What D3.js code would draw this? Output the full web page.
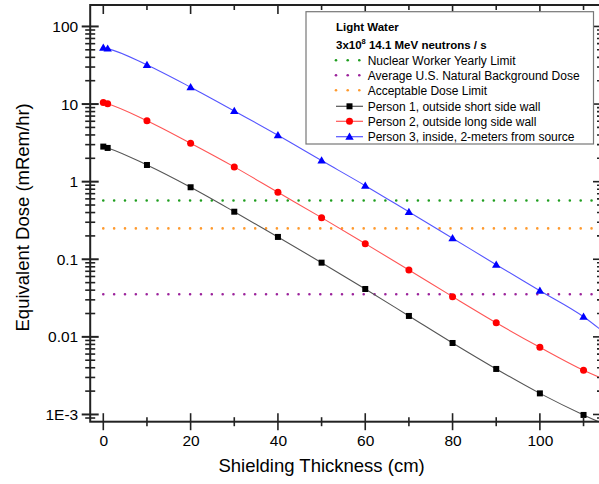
<!DOCTYPE html>
<html><head><meta charset="utf-8">
<script src="https://cdn.jsdelivr.net/npm/d3@7"></script>
<style>body{margin:0;background:#fff;} svg{display:block;font-family:"Liberation Sans",Arial,sans-serif;}</style>
</head><body><svg id="c" width="599" height="484"></svg>
<script>
const thickness = [0, 1, 10, 20, 30, 40, 50, 60, 70, 80, 90, 100, 110, 120];
const person1 = [2.83, 2.72, 1.64, 0.847, 0.410, 0.194, 0.0904, 0.0414, 0.0186, 0.00834, 0.00386, 0.00187, 0.000986, 0.00056];
const person2 = [10.5, 10.1, 6.11, 3.13, 1.55, 0.729, 0.344, 0.159, 0.0728, 0.033, 0.0152, 0.00734, 0.00371, 0.00216];
const person3 = [53.3, 51.8, 31.9, 16.5, 8.15, 3.96, 1.87, 0.888, 0.408, 0.187, 0.0851, 0.0394, 0.0182, 0.0064];
const limitNames = ["Nuclear Worker Yearly Limit", "Average U.S. Natural Background Dose", "Acceptable Dose Limit"];
const limitValues = [0.571, 0.0354, 0.25];
const limitColors = ["#1f9e1f", "#9b229b", "#ff9a2e"];
const seriesNames = ["Person 1, outside short side wall", "Person 2, outside long side wall", "Person 3, inside, 2-meters from source"];
const seriesColors = ["#000000", "#ff0000", "#0000ff"];
const lineColors = ["#555555", "#ff5555", "#5555ff"];
const xTicks = [0, 20, 40, 60, 80, 100];
const yTicks = [100, 10, 1, 0.1, 0.01, 0.001];
const yTickLabels = ["100", "10", "1", "0.1", "0.01", "1E-3"];

const svg = d3.select("#c");
const L = 90.2, R = 601, T = 5, B = 421.7;
const x = d3.scaleLinear().domain([-3, 114]).range([L, R]);
const y = d3.scaleLog().domain([8.07e-4, 189]).range([B, T]);

svg.append("defs").append("clipPath").attr("id","clip").append("rect")
  .attr("x", L).attr("y", T).attr("width", R - L).attr("height", B - T);

// limit dotted lines
const plot = svg.append("g").attr("clip-path","url(#clip)");
limitValues.forEach((v,i)=>{
  plot.append("line").attr("x1", x(0)).attr("x2", R).attr("y1", y(v)).attr("y2", y(v))
    .attr("stroke", limitColors[i]).attr("stroke-width", 2.6)
    .attr("stroke-linecap","round").attr("stroke-dasharray","0 10.85");
});

const series = [person1, person2, person3];
const line = d3.line().x((d,i)=>x(thickness[i])).y(d=>y(d)).curve(d3.curveMonotoneX);
series.forEach((s,k)=>{
  plot.append("path").attr("d", line(s)).attr("fill","none").attr("stroke", lineColors[k]).attr("stroke-width",1.1);
});
function marker(g, k, cx, cy){
  if(k===0) g.append("rect").attr("x",cx-3).attr("y",cy-3).attr("width",6).attr("height",6).attr("fill",seriesColors[k]);
  else if(k===1) g.append("circle").attr("cx",cx).attr("cy",cy).attr("r",3.5).attr("fill",seriesColors[k]);
  else g.append("path").attr("d",`M${cx},${cy-4.2}L${cx+4.2},${cy+3}L${cx-4.2},${cy+3}Z`).attr("fill",seriesColors[k]);
}
series.forEach((s,k)=>{
  s.forEach((v,i)=>marker(plot, k, x(thickness[i]), y(v)));
});

// frame
const ax = svg.append("g").attr("stroke","#222").attr("stroke-width",2);
ax.append("rect").attr("x",L).attr("y",T).attr("width",R-L).attr("height",B-T).attr("fill","none");

// x ticks
const xAll = d3.range(0, 111, 10);
xAll.forEach(v=>{
  const major = v % 20 === 0;
  const h = major ? 8.5 : 4.5;
  ax.append("line").attr("x1",x(v)).attr("x2",x(v)).attr("y1",B-h).attr("y2",B+h).attr("stroke-width",1.6);
  ax.append("line").attr("x1",x(v)).attr("x2",x(v)).attr("y1",T).attr("y2",T+(major?9:5)).attr("stroke-width",1.6);
});
// y ticks
const yMinor = [];
for (let e=-4; e<=2; e++) for (let m=1; m<=9; m++){ const v=m*Math.pow(10,e); if (v>=8.07e-4 && v<=189) yMinor.push(v); }
yMinor.forEach(v=>{
  const major = Math.abs(Math.log10(v) - Math.round(Math.log10(v))) < 1e-9;
  const h = major ? 8.5 : 5;
  ax.append("line").attr("x1",L-h).attr("x2",L+h).attr("y1",y(v)).attr("y2",y(v)).attr("stroke-width",major?2:1.6);
  ax.append("line").attr("x1",R-(major?8:4)).attr("x2",R).attr("y1",y(v)).attr("y2",y(v)).attr("stroke-width",1.6);
});

// axis labels via d3 axes
const xa = svg.append("g").attr("transform",`translate(0,${B})`)
  .call(d3.axisBottom(x).tickValues(xTicks).tickSize(0).tickPadding(13));
xa.select(".domain").remove();
xa.selectAll("text").attr("font-size",15.5).attr("fill","#000").attr("font-family","Liberation Sans, Arial, sans-serif");
const ya = svg.append("g").attr("transform",`translate(${L},0)`)
  .call(d3.axisLeft(y).tickValues(yTicks).tickFormat((d,i)=>yTickLabels[i]).tickSize(0).tickPadding(12));
ya.select(".domain").remove();
ya.selectAll("text").attr("font-size",15.5).attr("fill","#000").attr("font-family","Liberation Sans, Arial, sans-serif");

svg.append("text").attr("x", x(50)+0).attr("y", 472).attr("text-anchor","middle").attr("font-size",18.5).text("Shielding Thickness (cm)");
svg.append("text").attr("transform",`translate(29,${(T+B)/2+4}) rotate(-90)`).attr("text-anchor","middle").attr("font-size",18.5).text("Equivalent Dose (mRem/hr)");

// legend
const lg = svg.append("g");
lg.append("rect").attr("x",306).attr("y",11.7).attr("width",287.5).attr("height",132.3).attr("fill","#fff").attr("stroke","#777").attr("stroke-width",1.2);
lg.append("text").attr("x",336).attr("y",30.5).attr("font-size",11.5).attr("font-weight","bold").text("Light Water");
const t2 = lg.append("text").attr("x",336).attr("y",48.5).attr("font-size",11.5).attr("font-weight","bold");
t2.append("tspan").text("3x10");
t2.append("tspan").attr("dy",-5).attr("font-size",7.5).text("8");
t2.append("tspan").attr("dy",5).text(" 14.1 MeV neutrons / s");
const rowY = [60.3, 75.3, 90.3, 106.3, 121.3, 136.7];
limitNames.forEach((n,i)=>{
  [336, 347.7, 359.3].forEach(cx=>lg.append("circle").attr("cx",cx).attr("cy",rowY[i]).attr("r",1.3).attr("fill",limitColors[i]));
  lg.append("text").attr("x",367.7).attr("y",rowY[i]+4.3).attr("font-size",12).text(n);
});
seriesNames.forEach((n,k)=>{
  const yy = rowY[3+k];
  lg.append("line").attr("x1",336).attr("x2",363).attr("y1",yy).attr("y2",yy).attr("stroke",lineColors[k]).attr("stroke-width",1.2);
  marker(lg, k, 349.5, yy);
  lg.append("text").attr("x",367.7).attr("y",yy+4.3).attr("font-size",12).text(n);
});
</script></body></html>
